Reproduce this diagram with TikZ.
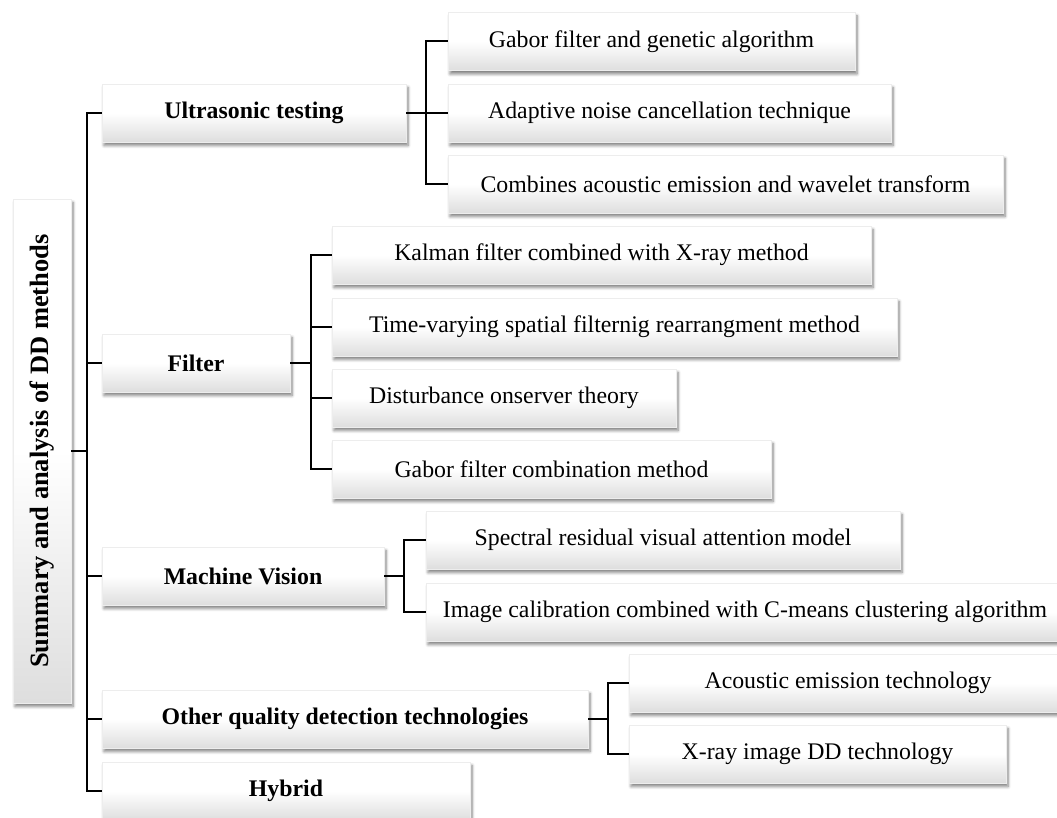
\documentclass[tikz,border=0pt]{standalone}
\usepackage{fontspec}
\setmainfont{Liberation Serif}
\usetikzlibrary{shadows.blur}
\begin{document}
\begin{tikzpicture}[x=1pt,y=-1pt,
  box/.style={minimum height=58pt, inner sep=0pt, draw=black!7, line width=0.4pt,
    top color=white, bottom color=black!13, middle color=white,
    blur shadow={shadow xshift=2pt, shadow yshift=-3.5pt, shadow blur steps=6, shadow blur radius=3pt, shadow opacity=50},
    font=\fontsize{23.8}{28}\selectfont},
  main/.style={box, font=\fontsize{23.8}{28}\selectfont\bfseries},
  conn/.style={line width=2pt, black}]
\useasboundingbox (0,0) rectangle (1057,818);
\clip (0,0) rectangle (1057,818);
% nodes
\node[main, minimum width=58pt, minimum height=504pt] (root) at (42,451) {\rotatebox{90}{\fontsize{26.5}{30}\selectfont Summary and analysis of DD methods}};
\node[main, minimum width=304pt] (U) at (254,113) {Ultrasonic testing};
\node[box, minimum width=407pt] (G1) at (651.5,41.5) {Gabor filter and genetic algorithm};
\node[box, minimum width=443pt] (A) at (669.5,113) {Adaptive noise cancellation technique};
\node[box, minimum width=555pt] (C3) at (725.5,184) {Combines acoustic emission and wavelet transform};
\node[main, minimum width=188pt] (F) at (196,363) {Filter};
\node[box, minimum width=539pt] (K) at (601.5,255) {Kalman filter combined with X-ray method};
\node[box, minimum width=565pt] (T) at (614.5,327) {Time-varying spatial filternig rearrangment method};
\node[box, minimum width=344pt] (D) at (504,398) {Disturbance onserver theory};
\node[box, minimum width=439pt] (GC) at (551.5,469) {Gabor filter combination method};
\node[main, minimum width=282pt] (MV) at (243,576) {Machine Vision};
\node[box, minimum width=474pt] (S) at (663,540) {Spectral residual visual attention model};
\node[box, minimum width=638pt] (IC) at (745,612) {Image calibration combined with C-means clustering algorithm};
\node[main, minimum width=486pt] (O) at (345,719) {Other quality detection technologies};
\node[box, minimum width=438pt] (AE) at (848,683) {Acoustic emission technology};
\node[box, minimum width=377pt] (XR) at (817.5,754) {X-ray image DD technology};
\node[main, minimum width=368pt] (H) at (286,791) {Hybrid};
% main bus
\draw[conn] (root.east) -- ++(16,0);
\draw[conn] (U.west) -- ++(-15,0) |- (H.west);
\draw[conn] (F.west) -- ++(-15,0);
\draw[conn] (MV.west) -- ++(-15,0);
\draw[conn] (O.west) -- ++(-15,0);
% ultrasonic
\draw[conn] (U.east) -- (A.west);
\draw[conn] (G1.west) -- ++(-22,0) |- (C3.west);
% filter
\draw[conn] (F.east) -- ++(21,0);
\draw[conn] (K.west) -- ++(-21,0) |- (GC.west);
\draw[conn] (T.west) -- ++(-21,0);
\draw[conn] (D.west) -- ++(-21,0);
% machine vision
\draw[conn] (MV.east) -- ++(20,0);
\draw[conn] (S.west) -- ++(-22,0) |- (IC.west);
% other
\draw[conn] (O.east) -- ++(20,0);
\draw[conn] (AE.west) -- ++(-21,0) |- (XR.west);
\end{tikzpicture}
\end{document}
